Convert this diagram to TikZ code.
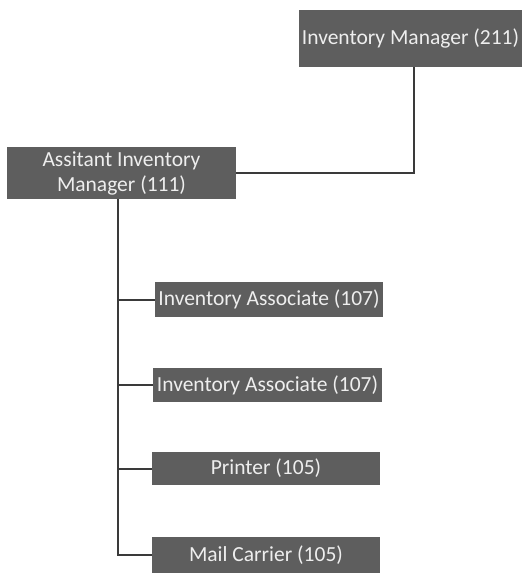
\documentclass[tikz,border=0pt]{standalone}
\usepackage{fontspec}
\setmainfont{Carlito}
\definecolor{boxgray}{HTML}{5E5E5E}
\definecolor{linegray}{HTML}{3A3A3A}
\definecolor{boxtext}{HTML}{EEEEEE}
\begin{document}
\begin{tikzpicture}[x=1pt,y=-1pt,
  role/.style={fill=boxgray,text=boxtext,inner sep=0pt,font=\fontsize{21.5}{25}\selectfont,align=center},
  link/.style={draw=linegray,line width=2pt}]
\useasboundingbox (0,0) rectangle (527,573);
% positions
\node[role,minimum width=223pt,minimum height=57pt] (im) at (410.5,38.5) {Inventory Manager (211)};
\node[role,minimum width=229pt,minimum height=52pt] (asst) at (121.5,173) {Assitant Inventory\\Manager (111)};
\node[role,minimum width=228pt,minimum height=35pt] (ia1) at (269,299.5) {Inventory Associate (107)};
\node[role,minimum width=229pt,minimum height=34pt] (ia2) at (267.5,385) {Inventory Associate (107)};
\node[role,minimum width=228pt,minimum height=33pt] (prn) at (266,468.5) {Printer (105)};
\node[role,minimum width=228pt,minimum height=36pt] (mail) at (266,555) {Mail Carrier (105)};
% reporting lines
\draw[link] ([xshift=3.5pt]im.south) |- (asst.east);
\draw[link] ([xshift=-3.5pt]asst.south) |- (mail.west);
\draw[link] ([xshift=-3.5pt]asst.south |- ia1.west) -- (ia1.west);
\draw[link] ([xshift=-3.5pt]asst.south |- ia2.west) -- (ia2.west);
\draw[link] ([xshift=-3.5pt]asst.south |- prn.west) -- (prn.west);
\end{tikzpicture}
\end{document}
